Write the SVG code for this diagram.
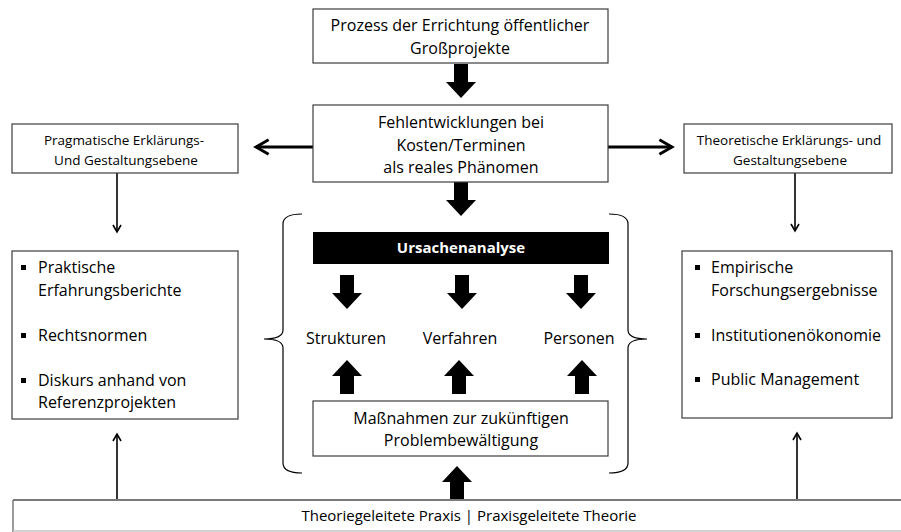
<svg xmlns="http://www.w3.org/2000/svg" xmlns:xlink="http://www.w3.org/1999/xlink" width="901" height="532" viewBox="0 0 901 532">
  <style>
    text { font-family: "Open Sans", "Noto Sans", "Liberation Sans", sans-serif; fill: #000; }
    .box { fill: #fff; stroke: #3c3c3c; stroke-width: 1.2; }
    .t15 { font-size: 16px; }
    .t13 { font-size: 13.5px; }
    .c { text-anchor: middle; }
    .thin { fill: none; stroke: #000; stroke-width: 1.6; }
    .thick { fill: none; stroke: #000; stroke-width: 3; }
    .brace { fill: none; stroke: #000; stroke-width: 1.2; }
    .blk { fill: #000; }
  </style>
  <defs>
    <!-- block arrow pointing down, tip at (0,34) -->
    <path id="blockDown" d="M-7,0 H7 V18 H15 L0,34 L-15,18 H-7 Z"/>
    <marker id="chev" viewBox="0 0 10 10" refX="8" refY="5" markerWidth="10" markerHeight="10" markerUnits="userSpaceOnUse" orient="auto">
      <path d="M1,1 L8,5 L1,9" fill="none" stroke="#000" stroke-width="1.6"/>
    </marker>
    <marker id="chevBig" viewBox="0 0 10 10" refX="8" refY="5" markerWidth="6" markerHeight="6" orient="auto">
      <path d="M1,1 L8,5 L1,9" fill="none" stroke="#000" stroke-width="1.6"/>
    </marker>
  </defs>

  <!-- connectors -->
  <g id="connectors">
    <use xlink:href="#blockDown" x="461" y="64" class="blk"/>
    <use xlink:href="#blockDown" x="461" y="182" class="blk"/>
    <line class="thick" x1="313" y1="147" x2="256" y2="147" marker-end="url(#chevBig)"/>
    <line class="thick" x1="608" y1="147" x2="672" y2="147" marker-end="url(#chevBig)"/>
    <line class="thin" x1="117" y1="173" x2="117" y2="232" marker-end="url(#chev)"/>
    <line class="thin" x1="795" y1="173" x2="795" y2="231" marker-end="url(#chev)"/>
    <line class="thin" x1="117" y1="500" x2="117" y2="434" marker-end="url(#chev)"/>
    <line class="thin" x1="797" y1="500" x2="797" y2="433" marker-end="url(#chev)"/>
    <!-- cause analysis arrows -->
    <use xlink:href="#blockDown" x="347" y="275" class="blk"/>
    <use xlink:href="#blockDown" x="462" y="275" class="blk"/>
    <use xlink:href="#blockDown" x="581" y="275" class="blk"/>
    <use xlink:href="#blockDown" transform="translate(347,394) rotate(180)" class="blk"/>
    <use xlink:href="#blockDown" transform="translate(459,394) rotate(180)" class="blk"/>
    <use xlink:href="#blockDown" transform="translate(582,394) rotate(180)" class="blk"/>
    <use xlink:href="#blockDown" transform="translate(457,500) rotate(180)" class="blk"/>
    <!-- braces -->
    <path class="brace" d="M302,214 Q283,214 283,224 V330 Q283,339 264,339 Q283,339 283,348 V463 Q283,473 302,473"/>
    <path class="brace" d="M609,214 Q628,214 628,224 V330 Q628,339 647,339 Q628,339 628,348 V463 Q628,473 609,473"/>
  </g>

  <g id="n-process">
    <rect class="box" x="313" y="9" width="295" height="54"/>
    <text class="t15 c" x="460" y="31">Prozess der Errichtung öffentlicher</text>
    <text class="t15 c" x="460" y="54">Großprojekte</text>
  </g>

  <g id="n-fehl">
    <rect class="box" x="313" y="105" width="295" height="77"/>
    <text class="t15 c" x="461" y="128">Fehlentwicklungen bei</text>
    <text class="t15 c" x="461" y="151">Kosten/Terminen</text>
    <text class="t15 c" x="461" y="173">als reales Phänomen</text>
  </g>

  <g id="n-pragmatic">
    <rect class="box" x="12" y="124" width="226" height="49"/>
    <text class="t13 c" x="124" y="145">Pragmatische Erklärungs-</text>
    <text class="t13 c" x="126" y="165">Und Gestaltungsebene</text>
  </g>

  <g id="n-theoretic">
    <rect class="box" x="684" y="124" width="208" height="49"/>
    <text class="t13 c" x="789" y="145">Theoretische Erklärungs- und</text>
    <text class="t13 c" x="790" y="165">Gestaltungsebene</text>
  </g>

  <g id="n-practice-list">
    <rect class="box" x="12" y="251" width="226" height="168"/>
    <rect x="21" y="265" width="5" height="5" class="blk"/>
    <text class="t15" x="38" y="273">Praktische</text>
    <text class="t15" x="38" y="296">Erfahrungsberichte</text>
    <rect x="21" y="333" width="5" height="5" class="blk"/>
    <text class="t15" x="38" y="341">Rechtsnormen</text>
    <rect x="21" y="378" width="5" height="5" class="blk"/>
    <text class="t15" x="38" y="386">Diskurs anhand von</text>
    <text class="t15" x="38" y="408">Referenzprojekten</text>
  </g>

  <g id="n-theory-list">
    <rect class="box" x="682" y="251" width="210" height="167"/>
    <rect x="695" y="265" width="5" height="5" class="blk"/>
    <text class="t15" x="711" y="273">Empirische</text>
    <text class="t15" x="711" y="296">Forschungsergebnisse</text>
    <rect x="695" y="333" width="5" height="5" class="blk"/>
    <text class="t15" x="711" y="341">Institutionenökonomie</text>
    <rect x="695" y="377" width="5" height="5" class="blk"/>
    <text class="t15" x="711" y="385">Public Management</text>
  </g>

  <g id="n-ursachen">
    <rect x="313" y="232" width="296" height="32" class="blk"/>
    <text class="c" x="461" y="253" style="fill:#fff;font-weight:bold;font-size:15px">Ursachenanalyse</text>
  </g>

  <g id="n-strukturen"><text class="t15 c" x="346" y="344">Strukturen</text></g>
  <g id="n-verfahren"><text class="t15 c" x="460" y="344">Verfahren</text></g>
  <g id="n-personen"><text class="t15 c" x="579" y="344">Personen</text></g>

  <g id="n-massnahmen">
    <rect class="box" x="313" y="401" width="295" height="55"/>
    <text class="t15 c" x="461" y="424">Maßnahmen zur zukünftigen</text>
    <text class="t15 c" x="461" y="446">Problembewältigung</text>
  </g>

  <g id="n-basis">
    <line x1="13" y1="500" x2="901" y2="500" stroke="#7a7a7a" stroke-width="2"/>
    <line x1="13" y1="500" x2="13" y2="532" stroke="#7a7a7a" stroke-width="1.5"/>
    <line x1="13" y1="531" x2="901" y2="531" stroke="#c4c4c4" stroke-width="1.5"/>
    <text x="469" y="521" class="c" style="font-size:15px">Theoriegeleitete Praxis | Praxisgeleitete Theorie</text>
  </g>
</svg>
